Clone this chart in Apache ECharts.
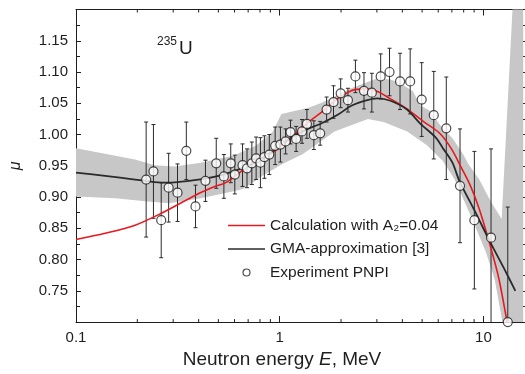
<!DOCTYPE html>
<html>
<head>
<meta charset="utf-8">
<script src="https://cdn.jsdelivr.net/npm/echarts@6/dist/echarts.min.js"></script>
<style>
  html, body { margin: 0; padding: 0; background: #fff; }
  #chart { width: 525px; height: 374px; }
</style>
</head>
<body>
<div id="chart"></div>
<script>
// PNPI experiment: neutron energy (MeV), mu and its uncertainty
const expEnergy = [0.221, 0.240, 0.262, 0.285, 0.315, 0.348, 0.386, 0.432, 0.488,
  0.532, 0.575, 0.602, 0.657, 0.691, 0.730, 0.766, 0.804, 0.841, 0.889,
  0.950, 1.008, 1.069, 1.130, 1.204, 1.287, 1.360, 1.471, 1.580, 1.699,
  1.837, 1.992, 2.162, 2.353, 2.592, 2.833, 3.131, 3.460, 3.897, 4.369,
  4.977, 5.705, 6.572, 7.676, 9.028, 10.90, 13.17];
const expMu = [0.928, 0.941, 0.863, 0.915, 0.907, 0.974, 0.885, 0.926, 0.954,
  0.933, 0.954, 0.936, 0.951, 0.946, 0.954, 0.962, 0.955, 0.964, 0.968,
  0.982, 0.984, 0.989, 1.004, 0.993, 1.005, 1.017, 0.999, 1.002, 1.040,
  1.052, 1.066, 1.055, 1.093, 1.070, 1.067, 1.093, 1.100, 1.085, 1.085,
  1.056, 1.031, 1.010, 0.918, 0.863, 0.835, 0.700];
const expErr = [0.092, 0.075, 0.060, 0.055, 0.046, 0.046, 0.034, 0.033, 0.040,
  0.035, 0.031, 0.031, 0.034, 0.031, 0.034, 0.034, 0.040, 0.034, 0.032,
  0.030, 0.028, 0.020, 0.019, 0.020, 0.019, 0.023, 0.023, 0.019, 0.020,
  0.026, 0.023, 0.019, 0.026, 0.029, 0.031, 0.036, 0.038, 0.045, 0.052,
  0.059, 0.070, 0.082, 0.091, 0.110, 0.142, 0.184];

// Calculation with A2 = 0.04
const calcEnergy = [0.1, 0.139, 0.195, 0.262, 0.386, 0.473, 0.549, 0.738, 0.922, 1.110,
  1.386, 1.607, 1.864, 2.244, 2.602, 3.018, 3.499, 4.213, 5.066, 6.098,
  6.968, 7.789, 8.607, 9.513, 10.63, 11.88, 12.99, 13.43];
const calcMu = [0.832, 0.842, 0.855, 0.874, 0.903, 0.916, 0.924, 0.955, 0.971, 0.992,
  1.020, 1.036, 1.054, 1.070, 1.073, 1.069, 1.057, 1.041, 1.021, 1.002,
  0.977, 0.947, 0.919, 0.882, 0.830, 0.771, 0.705, 0.680];

// GMA approximation and its uncertainty corridor
const gmaEnergy = [0.1, 0.139, 0.195, 0.243, 0.287, 0.339, 0.423, 0.529, 0.625, 0.766,
  0.922, 1.110, 1.335, 1.607, 1.935, 2.244, 2.602, 3.018, 3.499, 4.213,
  4.884, 5.880, 6.305, 7.046, 7.617, 9.028, 10.83, 12.80, 14.35];
const gmaMu = [0.939, 0.934, 0.928, 0.924, 0.923, 0.925, 0.929, 0.936, 0.944, 0.955,
  0.973, 0.993, 1.007, 1.018, 1.032, 1.046, 1.054, 1.058, 1.054, 1.040,
  1.018, 0.994, 0.979, 0.955, 0.926, 0.879, 0.827, 0.782, 0.750];

const bandUpperEnergy = [0.1, 0.195, 0.243, 0.303, 0.410, 0.591, 0.763, 0.922, 1.019, 1.386,
  1.607, 2.244, 3.018, 3.499, 3.910, 4.518, 4.884, 5.458, 6.098, 7.046,
  7.875, 8.511, 9.513, 10.87, 12.29, 13.88, 15.68];
const bandUpperMu = [0.978, 0.960, 0.951, 0.949, 0.955, 0.966, 0.982, 1.004, 1.033, 1.043,
  1.051, 1.074, 1.090, 1.088, 1.082, 1.069, 1.047, 1.038, 1.016, 0.994,
  0.971, 0.951, 0.929, 0.893, 0.865, 1.198, 1.533];
const bandLowerEnergy = [0.1, 0.156, 0.225, 0.287, 0.410, 0.572, 0.661, 0.825, 1.030, 1.287,
  1.438, 1.857, 2.710, 3.236, 4.227, 5.279, 6.305, 7.204, 7.789, 8.801,
  10.28, 11.36, 12.32, 12.84, 15.68];
const bandLowerMu = [0.901, 0.898, 0.893, 0.890, 0.898, 0.908, 0.913, 0.934, 0.953, 0.968,
  0.979, 1.005, 1.025, 1.020, 1.005, 0.983, 0.958, 0.929, 0.904, 0.865,
  0.812, 0.768, 0.705, 0.674, 0.526];

// Axis ticks
const xMajorTicks = [0.1, 1, 10];
const xTickLabels = ['0.1', '1', '10'];
const xMinorTicks = [0.2, 0.3, 0.4, 0.5, 0.6, 0.7, 0.8, 0.9, 2, 3, 4, 5, 6, 7, 8, 9];
const yTickLabels = ['0.75', '0.80', '0.85', '0.90', '0.95', '1.00', '1.05', '1.10', '1.15'];

const X_MIN = 0.1, X_MAX = 16, Y_MIN = 0.70, Y_MAX = 1.20;
const FONT = "'Liberation Sans', Arial, sans-serif";
const INK = '#1e1e1e';
const RED = '#e8191e';
const DARK = '#2a2a2a';

const NAME_CALC = 'Calculation with A₂=0.04';
const NAME_GMA = 'GMA-approximation [3]';
const NAME_EXP = 'Experiment PNPI';

const zip = (a, b) => a.map((v, i) => [v, b[i]]);

function xLabel(v) {
  const l = Math.log10(v);
  const idx = xMajorTicks.findIndex(t => Math.abs(Math.log10(t) - l) < 1e-6);
  return idx >= 0 ? xTickLabels[idx] : '';
}
function yLabel(v) {
  const s = v.toFixed(2);
  return yTickLabels.includes(s) ? s : '';
}

const chart = echarts.init(document.getElementById('chart'), null, { renderer: 'canvas' });

const axisLine = { show: true, lineStyle: { color: INK, width: 1 } };
// thin horizontal bar used as the legend key for the curves
const lineKey = 'path://M0,0 L37,0 L37,1.7 L0,1.7 Z';

const option = {
  animation: false,
  backgroundColor: '#fff',
  grid: { left: 70, top: 9.5, width: 457, height: 318.2, containLabel: false },
  xAxis: [
    {
      type: 'log', logBase: 10, min: X_MIN, max: X_MAX, position: 'bottom',
      axisLine, splitLine: { show: false },
      axisTick: { show: true, inside: true, length: 6, lineStyle: { color: INK } },
      axisLabel: {
        formatter: xLabel, fontFamily: FONT, fontSize: 15, color: INK, margin: 8,
        showMaxLabel: false, alignMinLabel: 'center', alignMaxLabel: 'center'
      },
      name: 'Neutron energy {i|E}, MeV', nameLocation: 'middle', nameGap: 18,
      nameTextStyle: {
        fontFamily: FONT, fontSize: 19, color: INK, padding: [0, 37, 0, 0],
        rich: { i: { fontFamily: FONT, fontSize: 19, fontStyle: 'italic', color: INK } }
      }
    },
    {
      type: 'log', logBase: 10, min: X_MIN, max: X_MAX, position: 'top',
      axisLine, splitLine: { show: false },
      axisTick: { show: true, inside: true, length: 6, lineStyle: { color: INK } },
      axisLabel: { show: false }
    }
  ],
  yAxis: [
    {
      type: 'value', min: Y_MIN, max: Y_MAX, interval: 0.05, position: 'left',
      axisLine, splitLine: { show: false },
      axisTick: { show: true, inside: true, length: 5, lineStyle: { color: INK } },
      minorTick: { show: true, splitNumber: 2, length: 4, lineStyle: { color: INK } },
      axisLabel: { formatter: yLabel, fontFamily: FONT, fontSize: 15, color: INK, margin: 8 },
      name: 'μ', nameLocation: 'middle', nameRotate: 90, nameGap: 52,
      nameTextStyle: { fontFamily: FONT, fontSize: 16, fontStyle: 'italic', color: INK }
    },
    {
      type: 'value', min: Y_MIN, max: Y_MAX, interval: 0.05, position: 'right',
      axisLine, splitLine: { show: false },
      axisTick: { show: true, inside: true, length: 5, lineStyle: { color: INK } },
      minorTick: { show: true, splitNumber: 2, length: 4, lineStyle: { color: INK } },
      axisLabel: { show: false }
    }
  ],
  legend: {
    orient: 'vertical', left: 223, top: 212.5,
    itemWidth: 37, itemHeight: 7, itemGap: 7.5,
    selectedMode: false,
    data: [
      { name: NAME_CALC, icon: lineKey, itemStyle: { color: RED, borderWidth: 0 } },
      { name: NAME_GMA, icon: lineKey, itemStyle: { color: DARK, borderWidth: 0 } },
      { name: NAME_EXP, icon: 'circle', itemStyle: { color: '#fff', borderColor: INK, borderWidth: 1.2 } }
    ],
    textStyle: { fontFamily: FONT, fontSize: 15.5, color: INK, lineHeight: 16 }
  },
  graphic: [
    { type: 'text', left: 157, top: 36, style: { text: '235', font: '12px ' + FONT, fill: INK } },
    { type: 'text', left: 179, top: 39, style: { text: 'U', font: '19px ' + FONT, fill: INK } }
  ],
  series: [
    {
      // uncertainty corridor of the GMA approximation
      type: 'custom', name: 'corridor', clip: true, silent: true, z: 1,
      data: [[X_MIN, Y_MIN]],
      encode: { x: 0, y: 1 },
      renderItem(params, api) {
        const upper = zip(bandUpperEnergy, bandUpperMu).map(p => api.coord(p));
        const lower = zip(bandLowerEnergy, bandLowerMu).map(p => api.coord(p)).reverse();
        return { type: 'polygon', shape: { points: upper.concat(lower) }, style: { fill: '#c7c7c7' } };
      }
    },
    {
      // minor ticks of the log energy axis, bottom and top
      type: 'custom', name: 'xminor', silent: true, z: 5,
      data: xMinorTicks.map(v => [v, Y_MIN]),
      encode: { x: 0, y: 1 },
      renderItem(params, api) {
        const v = api.value(0);
        const b = api.coord([v, Y_MIN]);
        const t = api.coord([v, Y_MAX]);
        const st = { stroke: INK, lineWidth: 1 };
        return {
          type: 'group', children: [
            { type: 'line', shape: { x1: b[0], y1: b[1], x2: b[0], y2: b[1] - 3 }, style: st },
            { type: 'line', shape: { x1: t[0], y1: t[1], x2: t[0], y2: t[1] + 3 }, style: st }
          ]
        };
      }
    },
    {
      // experimental uncertainties
      type: 'custom', name: 'errorbars', clip: true, silent: true, z: 3,
      data: expEnergy.map((e, i) => [e, expMu[i] - expErr[i], expMu[i] + expErr[i]]),
      encode: { x: 0, y: [1, 2] },
      renderItem(params, api) {
        const e = api.value(0);
        const lo = api.coord([e, api.value(1)]);
        const hi = api.coord([e, api.value(2)]);
        const st = { stroke: DARK, lineWidth: 1 };
        const c = 2;
        return {
          type: 'group', children: [
            { type: 'line', shape: { x1: hi[0], y1: hi[1], x2: lo[0], y2: lo[1] }, style: st },
            { type: 'line', shape: { x1: hi[0] - c, y1: hi[1], x2: hi[0] + c, y2: hi[1] }, style: st },
            { type: 'line', shape: { x1: lo[0] - c, y1: lo[1], x2: lo[0] + c, y2: lo[1] }, style: st }
          ]
        };
      }
    },
    {
      type: 'line', name: NAME_CALC, z: 4,
      data: zip(calcEnergy, calcMu),
      smooth: 0.3, symbol: 'none', clip: true,
      lineStyle: { color: RED, width: 1.6 },
      itemStyle: { color: RED }
    },
    {
      type: 'line', name: NAME_GMA, z: 4,
      data: zip(gmaEnergy, gmaMu),
      smooth: 0.3, symbol: 'none', clip: true,
      lineStyle: { color: DARK, width: 1.8 },
      itemStyle: { color: DARK }
    },
    {
      type: 'scatter', name: NAME_EXP, z: 6,
      data: zip(expEnergy, expMu),
      symbol: 'circle', symbolSize: 9, clip: false,
      itemStyle: { color: '#fff', borderColor: INK, borderWidth: 1.2 }
    }
  ]
};

chart.setOption(option);
</script>
</body>
</html>
